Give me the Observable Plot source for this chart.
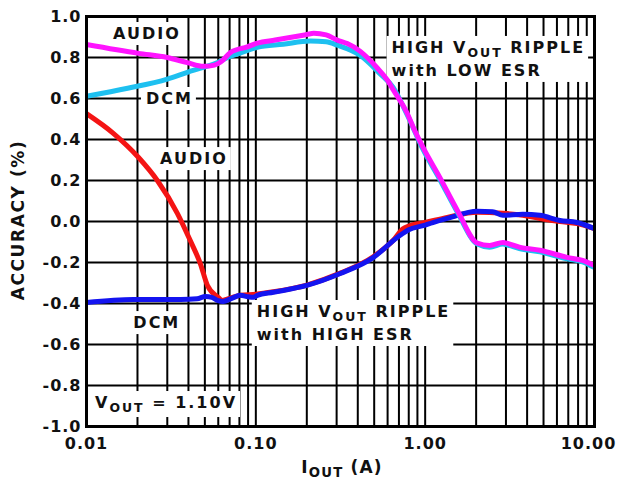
<!DOCTYPE html>
<html>
<head>
<meta charset="utf-8">
<script src="https://cdn.jsdelivr.net/npm/d3@7"></script>
<script src="https://cdn.jsdelivr.net/npm/@observablehq/plot@0.6"></script>
<style>
  html, body { margin: 0; padding: 0; background: #fff; }
  svg { display: block; }
</style>
</head>
<body>
<div id="chart"></div>
<script>
// Load-current accuracy, [I_OUT (A), accuracy (%)]
const audioLowEsr = [
  [0.01, 0.863], [0.0203, 0.82], [0.030, 0.80], [0.0394, 0.775], [0.049, 0.757],
  [0.057, 0.763], [0.062, 0.778], [0.071, 0.825], [0.089, 0.852], [0.102, 0.87],
  [0.13, 0.885], [0.20, 0.912], [0.22, 0.918], [0.26, 0.91], [0.303, 0.885],
  [0.347, 0.868], [0.414, 0.83], [0.455, 0.80], [0.52, 0.75], [0.60, 0.688],
  [0.65, 0.64], [0.784, 0.527], [0.85, 0.46], [0.973, 0.36], [1.22, 0.215],
  [1.55, 0.054], [2.03, -0.105], [2.4, -0.117], [2.88, -0.102], [3.1, -0.108],
  [3.6, -0.125], [4.76, -0.14], [6.88, -0.175], [8.5, -0.19], [10, -0.215]
];
const dcmLowEsr = [
  [0.01, 0.611], [0.0175, 0.65], [0.030, 0.695], [0.0394, 0.728], [0.049, 0.752],
  [0.060, 0.777], [0.068, 0.80], [0.080, 0.82], [0.102, 0.85], [0.145, 0.865],
  [0.21, 0.88], [0.26, 0.877], [0.303, 0.86], [0.414, 0.81], [0.543, 0.72],
  [0.647, 0.654], [0.784, 0.52], [0.973, 0.35], [1.22, 0.205], [1.55, 0.045],
  [2.03, -0.11], [2.4, -0.125], [2.88, -0.11], [3.1, -0.116], [3.6, -0.132],
  [4.76, -0.148], [6.88, -0.182], [8.5, -0.197], [10, -0.225]
];
const audioHighEsr = [
  [0.01, 0.526], [0.0144, 0.43], [0.0203, 0.312], [0.0262, 0.20], [0.0344, 0.04],
  [0.041, -0.093], [0.047, -0.205], [0.0518, -0.312], [0.060, -0.37], [0.0634, -0.385],
  [0.070, -0.375], [0.081, -0.36], [0.10, -0.355], [0.127, -0.343], [0.20, -0.31],
  [0.315, -0.252], [0.493, -0.172], [0.65, -0.09], [0.74, -0.035], [0.80, -0.022],
  [1.0, -0.005], [1.35, 0.02], [2.03, 0.045], [2.88, 0.04], [3.78, 0.03],
  [4.76, 0.015], [6.25, 0.0], [7.9, -0.01], [10, -0.035]
];
const dcmHighEsr = [
  [0.01, -0.395], [0.0189, -0.38], [0.0359, -0.38], [0.045, -0.377], [0.0504, -0.366],
  [0.055, -0.37], [0.060, -0.386], [0.064, -0.39], [0.072, -0.375], [0.081, -0.36],
  [0.090, -0.367], [0.097, -0.37], [0.102, -0.36], [0.127, -0.345], [0.20, -0.312],
  [0.315, -0.254], [0.493, -0.176], [0.684, -0.078], [0.80, -0.04], [0.973, -0.02],
  [1.11, -0.005], [1.35, 0.015], [2.03, 0.05], [2.5, 0.048], [2.88, 0.03],
  [3.78, 0.035], [4.76, 0.03], [6.25, 0.005], [7.9, -0.005], [10, -0.035]
];

const xTicks = [0.01, 0.1, 1, 10];
const xTickLabels = ["0.01", "0.10", "1.00", "10.00"];
const yTicks = [-1, -0.8, -0.6, -0.4, -0.2, 0, 0.2, 0.4, 0.6, 0.8, 1];
const yTickLabels = ["-1.0", "-0.8", "-0.6", "-0.4", "-0.2", "0.0", "0.2", "0.4", "0.6", "0.8", "1.0"];

// Curve annotations; "_{...}" marks a subscript
const notes = [
  { x: 0.0229, y: 0.917, anchor: "middle", text: ["AUDIO"] },
  { x: 0.0311, y: 0.60, anchor: "middle", text: ["DCM"] },
  { x: 0.0434, y: 0.307, anchor: "middle", text: ["AUDIO"] },
  { x: 0.638, y: 0.849, anchor: "start", text: ["HIGH V_{OUT} RIPPLE", "with LOW ESR"] },
  { x: 0.0262, y: -0.493, anchor: "middle", text: ["DCM"] },
  { x: 0.102, y: -0.439, anchor: "start", text: ["HIGH V_{OUT} RIPPLE", "with HIGH ESR"] },
  { x: 0.0113, y: -0.883, anchor: "start", text: ["V_{OUT} = 1.10V"] }
];

// Draw order: high-ESR pair below, low-ESR pair on top
const series = [
  { key: "audioHigh", color: "#f41414", pts: audioHighEsr },
  { key: "dcmHigh", color: "#1414f0", pts: dcmHighEsr },
  { key: "dcmLow", color: "#1ec0f0", pts: dcmLowEsr },
  { key: "audioLow", color: "#ff14ff", pts: audioLowEsr }
];

const xGrid = d3.scaleLog().domain([0.01, 10]).ticks();
const font = "'DejaVu Sans', Verdana, sans-serif";

const chart = Plot.plot({
  width: 620,
  height: 482,
  marginLeft: 86,
  marginRight: 26,
  marginTop: 16,
  marginBottom: 56,
  style: { fontFamily: font, fontWeight: "bold", fontSize: "16px", letterSpacing: "1px", color: "#111", background: "#fff" },
  x: { type: "log", domain: [0.01, 10] },
  y: { domain: [-1, 1] },
  marks: [
    Plot.ruleX(xGrid, { stroke: "black", strokeWidth: 2 }),
    Plot.ruleY(yTicks, { stroke: "black", strokeWidth: 2 }),
    ...series.map(s => Plot.line(s.pts, {
      x: d => d[0], y: d => d[1],
      stroke: s.color, strokeWidth: 5, curve: "monotone-x",
      strokeLinejoin: "round", strokeLinecap: "butt"
    })),
    Plot.frame({ stroke: "black", strokeWidth: 3 }),
    Plot.axisX({ ticks: xTicks, tickFormat: d => xTickLabels[xTicks.indexOf(d)], tickSize: 0, tickPadding: 11, label: null, fill: "#111" }),
    Plot.axisY({ ticks: yTicks, tickFormat: d => yTickLabels[yTicks.findIndex(t => Math.abs(t - d) < 1e-9)], tickSize: 0, tickPadding: 5, label: null, fill: "#111" })
  ]
});

document.getElementById("chart").appendChild(chart);

// Keep the last x tick label inside the right edge
const xLabels = chart.querySelectorAll('g[aria-label="x-axis tick label"] text');
if (xLabels.length) xLabels[xLabels.length - 1].setAttribute("dx", -6);

const sx = chart.scale("x"), sy = chart.scale("y");
const svg = d3.select(chart);

const SUB_DROP = 4;
// Appends a line of text as tspans, turning "_{...}" into lowered smaller runs
function rich(textSel, str, x, dy) {
  const parts = str.split(/_\{([^}]*)\}/);
  let shifted = false, first = true;
  parts.forEach((p, i) => {
    if (!p) return;
    const t = textSel.append("tspan").text(p);
    let shift = 0;
    if (i % 2 === 1) { t.attr("font-size", "0.78em"); if (!shifted) shift = SUB_DROP; shifted = true; }
    else if (shifted) { shift = -SUB_DROP; shifted = false; }
    if (first) { if (x != null) t.attr("x", x); t.attr("dy", dy + shift); first = false; }
    else if (shift) t.attr("dy", shift);
  });
  if (shifted) textSel.append("tspan").attr("dy", -SUB_DROP).text("");
}

// Annotations sit above the grid but under the curves
const firstLine = chart.querySelector('g[aria-label="line"]');
const noteLayer = document.createElementNS("http://www.w3.org/2000/svg", "g");
chart.insertBefore(noteLayer, firstLine);
const layer = d3.select(noteLayer)
  .attr("font-family", font).attr("font-weight", "bold")
  .attr("font-size", 16).attr("letter-spacing", "2px").attr("fill", "#111")
  .style("white-space", "pre");

for (const n of notes) {
  const g = layer.append("g");
  const rect = g.append("rect").attr("fill", "white");
  const px = sx.apply(n.x);
  const t = g.append("text").attr("x", px).attr("y", sy.apply(n.y)).attr("text-anchor", n.anchor);
  n.text.forEach((line, i) => rich(t, line, px, i === 0 ? 6 : 23));
  const bb = g.node().getBBox();
  rect.attr("x", bb.x - 5).attr("y", bb.y - 2).attr("width", bb.width + 8).attr("height", bb.height + 4);
}

// Axis titles
const titles = svg.append("g")
  .attr("font-family", font).attr("font-weight", "bold")
  .attr("font-size", 17).attr("fill", "#111").style("white-space", "pre");
const xt = titles.append("text")
  .attr("x", 342).attr("y", 473).attr("text-anchor", "middle").attr("letter-spacing", "1.2px");
rich(xt, "I_{OUT} (A)", null, 0);
titles.append("text")
  .attr("transform", "translate(24,220) rotate(-90)")
  .attr("text-anchor", "middle").attr("letter-spacing", "1.6px")
  .text("ACCURACY (%)");
</script>
</body>
</html>
